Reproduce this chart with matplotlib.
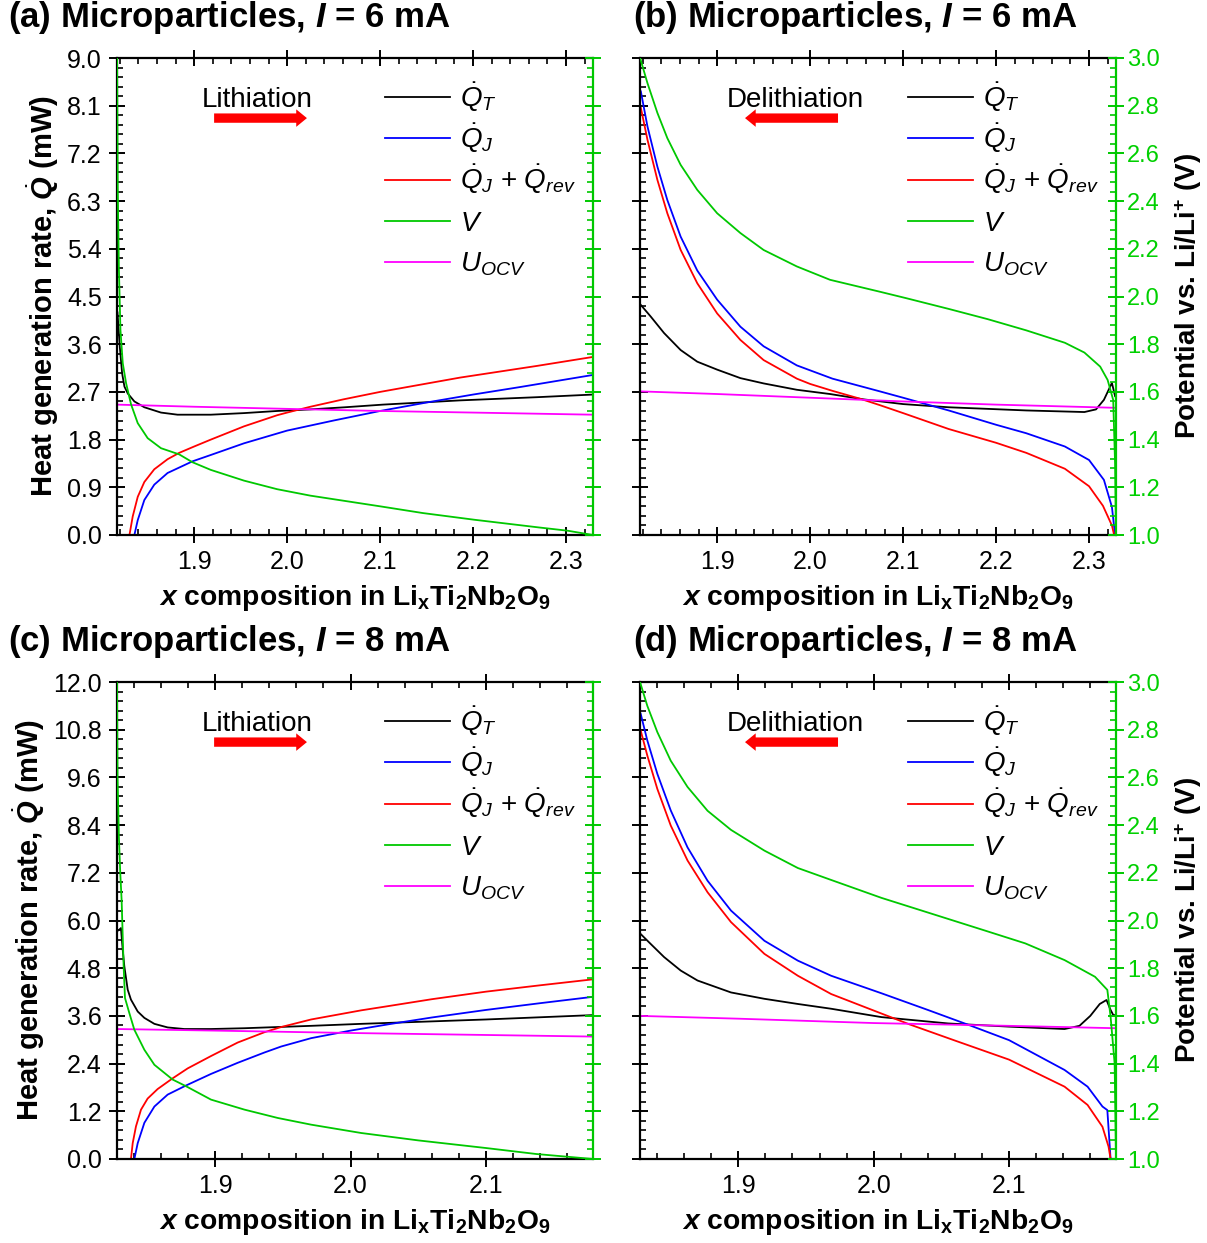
import numpy as np
import matplotlib
matplotlib.use("Agg")
import matplotlib.pyplot as plt
from matplotlib.ticker import AutoMinorLocator, FormatStrFormatter

plt.rcParams['font.family'] = ['Liberation Sans', 'DejaVu Sans']
plt.rcParams['mathtext.fontset'] = 'custom'
plt.rcParams['mathtext.rm'] = 'Liberation Sans'
plt.rcParams['mathtext.it'] = 'Liberation Sans:italic'
plt.rcParams['mathtext.bf'] = 'Liberation Sans:bold'
plt.rcParams['mathtext.bfit'] = 'Liberation Sans:bold:italic'

GREEN = '#00C800'
GREEN_TXT = '#00D000'

# ---------------- (a) lithiation, 6 mA ----------------
qt_a_x = [1.8175, 1.8200, 1.8225, 1.8250, 1.8286, 1.8357, 1.8464, 1.8643, 1.8821, 1.9179,
          1.9536, 1.9893, 2.0250, 2.0620, 2.1030, 2.1860, 2.2686, 2.329]
qt_a = [4.2, 3.55, 3.05, 2.80, 2.67, 2.52, 2.41, 2.31, 2.27, 2.27,
        2.30, 2.34, 2.37, 2.41, 2.46, 2.54, 2.60, 2.65]
qj_a_x = [1.8357, 1.8393, 1.8464, 1.8571, 1.8714, 1.8982, 1.9179, 1.9536, 2.0, 2.05,
          2.1, 2.15, 2.2, 2.25, 2.329]
qj_a = [0, 0.28, 0.66, 0.95, 1.17, 1.39, 1.51, 1.73, 1.97, 2.16,
        2.34, 2.50, 2.65, 2.79, 3.02]
qr_a_x = [1.8304, 1.8339, 1.8393, 1.8464, 1.8571, 1.8714, 1.8839, 1.9, 1.9179, 1.9536,
          1.9893, 2.0, 2.025, 2.0607, 2.1, 2.186, 2.2686, 2.329]
qr_a = [0, 0.35, 0.72, 1.0, 1.24, 1.43, 1.55, 1.67, 1.80, 2.05,
        2.26, 2.31, 2.42, 2.56, 2.70, 2.97, 3.19, 3.36]
v_a_x = [1.8171, 1.8178, 1.8190, 1.8207, 1.8232, 1.8268, 1.8321, 1.8393, 1.85, 1.8643,
         1.8839, 1.8982, 1.9179, 1.9536, 1.9893, 2.025, 2.0786, 2.1004, 2.146, 2.2013,
         2.2701, 2.3017, 2.329]
v_a = [3.0, 2.45, 2.12, 1.86, 1.72, 1.636, 1.548, 1.469, 1.406, 1.364,
       1.338, 1.305, 1.273, 1.228, 1.192, 1.165, 1.133, 1.12, 1.092, 1.064,
       1.032, 1.018, 1.0]
u_a_x = [1.817, 1.9, 2.0, 2.1, 2.2, 2.329]
u_a = [2.46, 2.42, 2.38, 2.34, 2.31, 2.27]

# ---------------- (b) delithiation, 6 mA ----------------
qt_b_x = [1.8179, 1.8286, 1.8429, 1.8607, 1.8786, 1.9, 1.925, 1.95, 1.9857, 2.0214,
          2.057, 2.1, 2.149, 2.2325, 2.295, 2.3075, 2.316, 2.3246, 2.328]
qt_b = [4.34, 4.12, 3.81, 3.49, 3.27, 3.12, 2.96, 2.86, 2.74, 2.66,
        2.56, 2.47, 2.41, 2.35, 2.32, 2.37, 2.55, 2.87, 2.62]
qj_b_x = [1.8179, 1.825, 1.8357, 1.8464, 1.8607, 1.8786, 1.9, 1.925, 1.95, 1.9857,
          2.024, 2.075, 2.1, 2.149, 2.2, 2.2325, 2.274, 2.3, 2.316, 2.3246, 2.328]
qj_b = [8.37, 7.71, 6.95, 6.32, 5.63, 4.99, 4.44, 3.93, 3.56, 3.2,
        2.95, 2.71, 2.59, 2.35, 2.08, 1.92, 1.67, 1.415, 1.04, 0.53, 0.0]
qr_b_x = [1.8179, 1.825, 1.8357, 1.8464, 1.8607, 1.8786, 1.9, 1.925, 1.95, 1.9857,
          2.0, 2.024, 2.054, 2.075, 2.1, 2.149, 2.2, 2.2325, 2.274, 2.3,
          2.315, 2.3246, 2.327]
qr_b = [8.06, 7.46, 6.70, 6.07, 5.38, 4.75, 4.18, 3.68, 3.30, 2.95,
        2.85, 2.72, 2.57, 2.45, 2.30, 2.0, 1.74, 1.55, 1.25, 0.92,
        0.55, 0.18, 0.0]
v_b_x = [1.8171, 1.825, 1.8357, 1.8464, 1.8607, 1.8786, 1.9, 1.925, 1.95, 1.9857,
         2.0214, 2.075, 2.1033, 2.149, 2.191, 2.2325, 2.274, 2.295, 2.312, 2.32,
         2.326, 2.328, 2.329]
v_b = [3.0, 2.895, 2.77, 2.664, 2.552, 2.447, 2.349, 2.266, 2.195, 2.126,
       2.07, 2.02, 1.993, 1.948, 1.905, 1.858, 1.806, 1.765, 1.706, 1.65,
       1.566, 1.3, 1.0]
u_b_x = [1.817, 1.9, 2.0, 2.1, 2.2, 2.328]
u_b = [2.71, 2.66, 2.59, 2.52, 2.46, 2.40]

# ---------------- (c) lithiation, 8 mA ----------------
qt_c_x = [1.8276, 1.8293, 1.8305, 1.8318, 1.833, 1.8355, 1.8379, 1.8429, 1.8478, 1.8552,
          1.865, 1.8773, 1.897, 1.9217, 1.9463, 1.9709, 2.0079, 2.05, 2.1, 2.179]
qt_c = [5.73, 5.77, 5.81, 5.27, 4.85, 4.26, 4.01, 3.71, 3.55, 3.40,
        3.31, 3.27, 3.27, 3.29, 3.32, 3.35, 3.40, 3.45, 3.51, 3.62]
qj_c_x = [1.8404, 1.8429, 1.8478, 1.8552, 1.865, 1.8786, 1.897, 1.9167, 1.9365, 1.9488,
          1.9709, 2.0, 2.03, 2.06, 2.1, 2.14, 2.179]
qj_c = [0, 0.40, 0.91, 1.32, 1.62, 1.85, 2.14, 2.42, 2.68, 2.83,
        3.04, 3.23, 3.40, 3.56, 3.75, 3.92, 4.08]
qr_c_x = [1.8379, 1.8392, 1.8416, 1.8453, 1.8502, 1.8576, 1.8687, 1.8798, 1.897, 1.9167,
          1.9365, 1.9488, 1.9709, 2.0079, 2.0248, 2.06, 2.1, 2.14, 2.179]
qr_c = [0, 0.40, 0.82, 1.24, 1.52, 1.76, 2.03, 2.28, 2.59, 2.93,
        3.19, 3.32, 3.51, 3.74, 3.83, 4.02, 4.21, 4.37, 4.52]
v_c_x = [1.8276, 1.8280, 1.8290, 1.8300, 1.831, 1.8325, 1.8335, 1.8367, 1.8404, 1.8478,
         1.8552, 1.8687, 1.8786, 1.897, 1.9217, 1.9463, 1.9709, 2.0079, 2.05, 2.1,
         2.137, 2.179]
v_c = [3.0, 2.6, 2.35, 2.2, 2.087, 1.808, 1.675, 1.612, 1.542, 1.458,
       1.395, 1.333, 1.305, 1.249, 1.207, 1.172, 1.144, 1.109, 1.078, 1.046,
       1.021, 1.0]
u_c_x = [1.8276, 1.9, 2.0, 2.1, 2.179]
u_c = [3.27, 3.23, 3.17, 3.12, 3.08]

# ---------------- (d) delithiation, 8 mA ----------------
qt_d_x = [1.8279, 1.8353, 1.8452, 1.8575, 1.8699, 1.8946, 1.9193, 1.944, 1.9686, 2.0057,
          2.055, 2.1, 2.141, 2.152, 2.16, 2.167, 2.172, 2.175, 2.177, 2.179]
qt_d = [5.66, 5.41, 5.08, 4.74, 4.49, 4.19, 4.03, 3.90, 3.78, 3.57,
        3.41, 3.33, 3.27, 3.35, 3.6, 3.9, 4.0, 3.75, 3.62, 3.62]
qj_d_x = [1.8279, 1.8328, 1.8402, 1.8501, 1.8625, 1.8773, 1.8946, 1.9193, 1.944, 1.9686,
          2.0057, 2.04, 2.072, 2.1, 2.141, 2.158, 2.169, 2.1726, 2.175]
qj_d = [11.2, 10.53, 9.69, 8.77, 7.84, 7.0, 6.25, 5.49, 4.99, 4.61,
        4.17, 3.75, 3.35, 2.99, 2.24, 1.82, 1.32, 1.23, 0.0]
qr_d_x = [1.8279, 1.8328, 1.8402, 1.8501, 1.8625, 1.8773, 1.8946, 1.9193, 1.944, 1.9686,
          2.0057, 2.027, 2.06, 2.1, 2.141, 2.158, 2.169, 2.1735, 2.175]
qr_d = [10.78, 10.15, 9.31, 8.39, 7.51, 6.71, 5.96, 5.16, 4.61, 4.15,
        3.66, 3.38, 2.98, 2.50, 1.82, 1.36, 0.81, 0.31, 0.0]
v_d_x = [1.8274, 1.8328, 1.8402, 1.8501, 1.8625, 1.8773, 1.8946, 1.9193, 1.944, 1.9686,
         2.0057, 2.081, 2.112, 2.141, 2.1635, 2.1726, 2.175, 2.178, 2.179]
v_d = [3.0, 2.90, 2.79, 2.67, 2.56, 2.46, 2.38, 2.293, 2.22, 2.17,
       2.095, 1.96, 1.904, 1.834, 1.764, 1.709, 1.597, 1.40, 1.0]
u_d_x = [1.8274, 1.9, 2.0, 2.1, 2.179]
u_d = [3.60, 3.53, 3.42, 3.35, 3.29]

titles = [r'(a) Microparticles, $\mathbfit{I}$ = 6 mA', r'(b) Microparticles, $\mathbfit{I}$ = 6 mA',
          r'(c) Microparticles, $\mathbfit{I}$ = 8 mA', r'(d) Microparticles, $\mathbfit{I}$ = 8 mA']
xlims = [(1.817, 2.329), (1.817, 2.329), (1.8276, 2.179), (1.8274, 2.179)]
xticks = [[1.9, 2.0, 2.1, 2.2, 2.3], [1.9, 2.0, 2.1, 2.2, 2.3], [1.9, 2.0, 2.1], [1.9, 2.0, 2.1]]
qmax = [9.0, 9.0, 12.0, 12.0]
directions = ['Lithiation', 'Delithiation', 'Lithiation', 'Delithiation']
legend_labels = [r'$\dot{Q}_T$', r'$\dot{Q}_J$', r'$\dot{Q}_J$ + $\dot{Q}_{rev}$', r'$V$', r'$U_{OCV}$']
legend_colors = ['black', 'blue', 'red', GREEN, 'magenta']

data = [
    (qt_a_x, qt_a, qj_a_x, qj_a, qr_a_x, qr_a, v_a_x, v_a, u_a_x, u_a),
    (qt_b_x, qt_b, qj_b_x, qj_b, qr_b_x, qr_b, v_b_x, v_b, u_b_x, u_b),
    (qt_c_x, qt_c, qj_c_x, qj_c, qr_c_x, qr_c, v_c_x, v_c, u_c_x, u_c),
    (qt_d_x, qt_d, qj_d_x, qj_d, qr_d_x, qr_d, v_d_x, v_d, u_d_x, u_d),
]

W, H = 1207, 1243
fig = plt.figure(figsize=(W / 100, H / 100), dpi=100)

# axes boxes in pixels: left, top, right, bottom
boxes = [(117, 58, 593, 535), (640, 58, 1116, 535), (117, 682, 593, 1159), (640, 682, 1116, 1159)]
title_pos = [(8, 18), (633, 18), (8, 642), (633, 642)]

for i in range(4):
    l, t, r, b = boxes[i]
    ax = fig.add_axes([l / W, 1 - b / H, (r - l) / W, (b - t) / H])
    ax2 = ax.twinx()
    qtx, qt, qjx, qj, qrx, qr, vx, v, ux, u = data[i]
    lw = 1.3
    ax.plot(qtx, qt, color='black', lw=lw)
    ax.plot(qjx, qj, color='blue', lw=lw)
    ax.plot(qrx, qr, color='red', lw=lw)
    ax.plot(ux, u, color='magenta', lw=lw)
    ax2.plot(vx, v, color=GREEN, lw=lw)

    ax.set_xlim(*xlims[i])
    ax.set_ylim(0, qmax[i])
    ax2.set_ylim(1.0, 3.0)
    ax.set_xticks(xticks[i])
    ax.set_yticks(np.linspace(0, qmax[i], 11))
    ax2.set_yticks(np.linspace(1.0, 3.0, 11))
    ax.xaxis.set_minor_locator(AutoMinorLocator(5))
    ax.yaxis.set_minor_locator(AutoMinorLocator(5))
    ax2.yaxis.set_minor_locator(AutoMinorLocator(5))
    ax.xaxis.set_major_formatter(FormatStrFormatter('%.1f'))
    ax.yaxis.set_major_formatter(FormatStrFormatter('%.1f'))
    ax2.yaxis.set_major_formatter(FormatStrFormatter('%.1f'))

    for sp in ['left', 'top', 'bottom']:
        ax.spines[sp].set_linewidth(1.6)
        ax2.spines[sp].set_visible(False)
    ax.spines['right'].set_visible(False)
    ax2.spines['right'].set_color(GREEN)
    ax2.spines['right'].set_linewidth(1.6)

    ax.tick_params(which='major', direction='inout', length=12, width=1.4, labelsize=18,
                   top=True, right=False, pad=5)
    ax.tick_params(which='minor', direction='in', length=4, width=1.2, top=True, right=False)
    ax2.tick_params(which='major', direction='inout', length=12, width=1.4, labelsize=17,
                    color=GREEN, labelcolor=GREEN_TXT, pad=2)
    ax2.tick_params(which='minor', direction='in', length=4, width=1.2, color=GREEN)

    if i % 2 == 0:
        ax2.tick_params(labelright=False)
        ax.set_ylabel(r'Heat generation rate, $\dot{\mathbfit{Q}}$ (mW)', fontsize=21,
                      fontweight='bold', labelpad=4)
    else:
        ax.tick_params(labelleft=False)
        ax2.set_ylabel(r'Potential vs. Li/Li$^\mathbf{+}$ (V)', fontsize=20,
                       fontweight='bold', labelpad=9)

    ax.set_xlabel(r'$\mathbfit{x}$ composition in Li$_\mathbf{x}$Ti$_\mathbf{2}$Nb$_\mathbf{2}$O$_\mathbf{9}$',
                  fontsize=20.3, fontweight='bold', labelpad=6)

    fig.text(title_pos[i][0] / W, 1 - title_pos[i][1] / H, titles[i], fontsize=25,
             fontweight='bold', ha='left', va='center')

    # direction text and arrow
    ax.text(0.294 if i % 2 == 0 else 0.326, 0.897, directions[i], transform=ax.transAxes,
            fontsize=20, ha='center', va='baseline')
    if i % 2 == 0:
        tail, head = 0.204, 0.399
    else:
        tail, head = 0.416, 0.2206
    ax.annotate('', xy=(head, 0.874), xytext=(tail, 0.874), xycoords='axes fraction',
                arrowprops=dict(arrowstyle='simple,head_length=0.55,head_width=0.9,tail_width=0.48',
                                color='red', lw=0, mutation_scale=14, shrinkA=0, shrinkB=0))

    # manual legend
    for k, (lab, col) in enumerate(zip(legend_labels, legend_colors)):
        yy = 0.918 - k * 0.0866
        ax.plot([0.563, 0.70], [yy, yy], transform=ax.transAxes, color=col, lw=1.3)
        ax.text(0.72, yy - 0.02, lab, transform=ax.transAxes, fontsize=20, va='baseline')

fig.savefig('out.png', dpi=100)
